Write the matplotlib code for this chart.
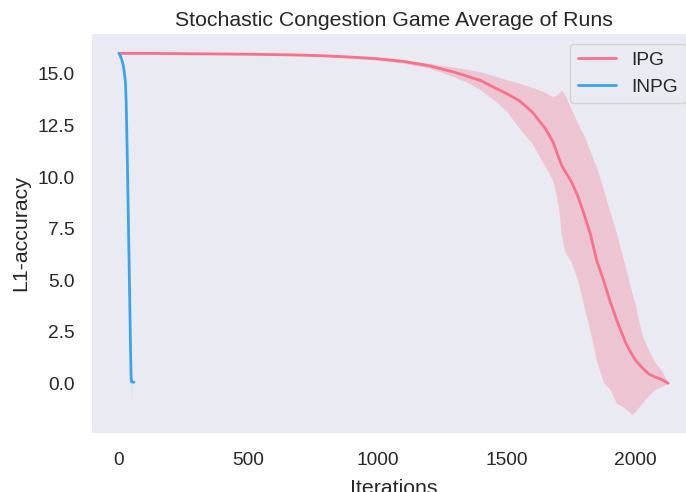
import numpy as np
import matplotlib
matplotlib.use("Agg")
import matplotlib.pyplot as plt
import seaborn as sns

# IPG: mean and band
ipg_iter = [0, 100, 200, 300, 400, 500, 600, 700, 800, 900, 1000, 1100, 1200,
            1300, 1350, 1400, 1450, 1500, 1550, 1600, 1650, 1680, 1700, 1712,
            1725, 1750, 1775, 1800, 1825, 1850, 1875, 1900, 1925, 1950, 1965,
            1985, 2000, 2025, 2050, 2075, 2100, 2125]
ipg_mean = [16.00, 16.00, 15.99, 15.98, 15.97, 15.96, 15.94, 15.92, 15.88, 15.82,
            15.74, 15.61, 15.40, 15.08, 14.88, 14.68, 14.36, 14.05, 13.70, 13.15,
            12.35, 11.70, 11.00, 10.60, 10.30, 9.80, 9.10, 8.20, 7.20, 5.90,
            5.00, 4.00, 3.10, 2.30, 1.85, 1.40, 1.10, 0.75, 0.45, 0.30, 0.18, 0.00]
ipg_upper = [16.01, 16.01, 16.01, 16.00, 16.00, 15.99, 15.97, 15.96, 15.93, 15.88,
             15.81, 15.70, 15.52, 15.32, 15.22, 15.10, 14.92, 14.72, 14.55, 14.35,
             14.10, 13.90, 14.05, 14.22, 14.00, 13.30, 12.60, 12.00, 11.20, 10.40,
             9.40, 8.30, 7.30, 6.10, 5.40, 4.40, 3.70, 2.30, 1.60, 1.00, 0.60, 0.05]
ipg_lower = [15.99, 15.99, 15.97, 15.96, 15.94, 15.93, 15.91, 15.88, 15.83, 15.76,
             15.67, 15.52, 15.28, 14.85, 14.58, 14.22, 13.75, 13.20, 12.35, 11.60,
             10.50, 9.80, 8.60, 7.20, 6.40, 5.90, 5.00, 3.70, 2.40, 1.00,
             0.05, -0.30, -0.97, -1.15, -1.29, -1.54, -1.35, -0.95, -0.60, -0.30, -0.15, 0.00]

# INPG: mean and band
inpg_iter = [0, 3, 6, 10, 15, 20, 25, 28, 32, 36, 40, 45, 47, 48, 52, 58]
inpg_mean = [16.0, 15.95, 15.85, 15.72, 15.5, 15.15, 14.6, 13.6, 11.1, 8.2, 5.3, 1.5,
             0.3, 0.08, 0.06, 0.05]
inpg_upper = [16.05, 16.0, 15.9, 15.78, 15.57, 15.23, 14.7, 13.75, 11.3, 8.4, 5.5, 1.7,
              0.5, 0.15, 0.08, 0.06]
inpg_lower = [15.95, 15.9, 15.8, 15.66, 15.43, 15.07, 14.5, 13.45, 10.9, 8.0, 5.1, 1.2,
              -0.6, -0.9, 0.0, 0.04]

sns.set_theme(style="dark")
plt.rcParams['font.family'] = ['Liberation Sans', 'DejaVu Sans']

pal = sns.color_palette("husl", 3)

fig = plt.figure(figsize=(6.86, 4.92), dpi=100)
ax = fig.add_axes([0.1334, 0.1205, 0.8805, 0.8104])

ax.plot(ipg_iter, ipg_mean, color=pal[0], lw=2, label="IPG")
ax.fill_between(ipg_iter, ipg_lower, ipg_upper, color=pal[0], alpha=0.3, lw=0)
ax.plot(inpg_iter, inpg_mean, color=pal[2], lw=2, label="INPG")
ax.fill_between(inpg_iter, inpg_lower, inpg_upper, color=pal[2], alpha=0.12, lw=0)

ax.set_xlim(-106.25, 2231.25)
ax.set_ylim(-2.40, 16.94)
ax.set_xticks([0, 500, 1000, 1500, 2000])
ax.set_yticks([0.0, 2.5, 5.0, 7.5, 10.0, 12.5, 15.0])
ax.tick_params(axis='both', labelsize=13.8, length=0, colors='#262626')
ax.tick_params(axis='x', pad=14)
ax.tick_params(axis='y', pad=12)

ax.set_title("Stochastic Congestion Game Average of Runs", fontsize=15.3, color='#262626')
ax.set_xlabel("Iterations", fontsize=15.3, color='#262626', labelpad=7)
ax.set_ylabel("L1-accuracy", fontsize=15.3, color='#262626', labelpad=5)
for s in ax.spines.values():
    s.set_visible(False)

ax.legend(loc="upper right", fontsize=13.8, frameon=True)

fig.savefig("out.png", dpi=100)
